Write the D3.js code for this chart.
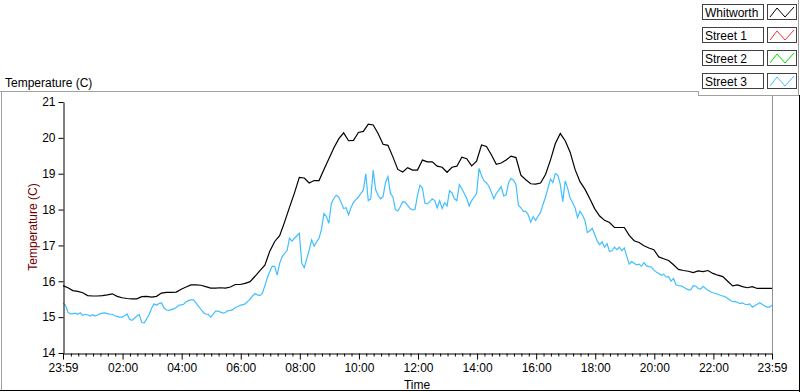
<!DOCTYPE html>
<html>
<head>
<meta charset="utf-8">
<script src="https://cdn.jsdelivr.net/npm/d3@7"></script>
<style>
  body { margin: 0; background: #fff; }
  svg { display: block; font-family: "Liberation Sans", Arial, sans-serif; font-size: 12px; }
</style>
</head>
<body>
<svg id="chart" width="800" height="392"></svg>
<script>
// legend entries (only Whitworth and Street 3 have data on the plot)
var seriesNames = ["Whitworth", "Street 1", "Street 2", "Street 3"];
var seriesColors = ["#000000", "#ff3030", "#00e000", "#40bfff"];

// x tick labels, first and last are the start/end of the 24h window
var tickLabels = ["23:59", "02:00", "04:00", "06:00", "08:00", "10:00", "12:00",
                  "14:00", "16:00", "18:00", "20:00", "22:00", "23:59"];

// Whitworth, one reading every 10 min from 23:59
var whitworthTemp = [
  15.88,15.82,15.74,15.72,15.68,15.60,
  15.59,15.59,15.60,15.62,15.65,15.58,
  15.54,15.52,15.51,15.51,15.57,15.58,
  15.56,15.58,15.67,15.69,15.69,15.70,
  15.78,15.84,15.90,15.90,15.89,15.85,
  15.81,15.81,15.82,15.81,15.84,15.91,
  15.91,15.94,15.99,16.14,16.30,16.45,
  16.84,17.11,17.27,17.65,18.06,18.46,
  18.90,18.88,18.74,18.81,18.81,19.12,
  19.42,19.72,19.97,20.14,19.92,19.93,
  20.15,20.18,20.38,20.36,20.12,19.82,
  19.79,19.47,19.12,19.05,19.17,19.10,
  19.10,19.38,19.33,19.33,19.21,19.18,
  19.04,19.18,19.21,19.46,19.42,19.22,
  19.35,19.80,19.76,19.53,19.26,19.30,
  19.38,19.49,19.45,18.96,18.83,18.72,
  18.71,18.74,18.98,19.38,19.84,20.12,
  19.92,19.60,19.12,18.78,18.57,18.30,
  18.02,17.82,17.70,17.64,17.50,17.50,
  17.50,17.28,17.13,17.08,16.99,16.93,
  16.88,16.68,16.63,16.58,16.46,16.33,
  16.30,16.28,16.24,16.29,16.27,16.30,
  16.22,16.17,16.13,16.00,15.87,15.90,
  15.85,15.82,15.85,15.80,15.80,15.80,
  15.80
];

// Street 3, one reading every 5 min from 23:59
var street3Temp = [
  15.39,15.33,15.14,15.09,15.10,15.11,15.08,15.12,15.05,15.08,15.06,15.03,
  15.07,15.03,15.06,15.09,15.11,15.12,15.10,15.08,15.08,15.04,15.02,15.00,
  15.00,15.04,15.09,14.94,14.91,14.97,15.03,15.07,14.85,14.84,14.95,15.08,
  15.25,15.37,15.33,15.38,15.40,15.26,15.20,15.19,15.21,15.23,15.27,15.33,
  15.34,15.36,15.43,15.46,15.48,15.48,15.40,15.31,15.22,15.13,15.08,15.08,
  15.00,15.08,15.17,15.17,15.14,15.11,15.13,15.18,15.19,15.21,15.27,15.29,
  15.33,15.35,15.37,15.44,15.50,15.59,15.66,15.62,15.60,15.67,15.88,16.10,
  16.27,16.42,16.41,16.17,16.50,16.68,16.78,16.85,17.20,17.12,17.20,17.27,
  17.34,16.50,16.38,16.62,16.87,17.15,16.98,17.10,17.20,17.45,17.89,17.80,
  17.62,18.17,18.31,18.40,18.35,18.20,18.03,18.05,17.85,18.06,18.20,18.28,
  18.35,18.45,18.54,19.00,18.25,18.30,19.10,18.55,18.40,18.30,18.36,18.75,
  18.92,18.45,18.36,18.00,17.96,18.08,18.22,18.20,18.12,18.03,17.99,18.00,
  18.40,18.68,18.60,18.18,18.16,18.22,18.30,18.25,18.05,18.25,18.03,18.19,
  18.10,18.52,18.47,18.30,18.25,18.70,18.58,18.45,18.31,18.10,18.25,18.35,
  18.45,19.15,18.95,18.80,18.75,18.65,18.48,18.30,18.45,18.54,18.64,18.38,
  18.41,18.75,18.87,18.82,18.70,18.12,18.05,17.95,17.95,17.85,17.65,17.80,
  17.70,17.82,17.92,18.15,18.35,18.60,18.85,18.75,19.00,18.96,18.70,18.22,
  18.80,18.59,18.32,18.19,18.05,17.78,17.95,17.85,17.70,17.36,17.41,17.48,
  17.30,17.12,17.02,17.10,16.95,17.05,16.83,16.85,16.95,16.88,16.95,16.85,
  16.93,16.70,16.48,16.55,16.50,16.46,16.48,16.42,16.52,16.43,16.41,16.40,
  16.31,16.26,16.22,16.17,16.20,16.12,16.13,16.00,16.08,15.90,15.88,15.87,
  15.84,15.80,15.76,15.76,15.88,15.87,15.80,15.78,15.86,15.80,15.75,15.71,
  15.68,15.66,15.64,15.61,15.59,15.57,15.52,15.47,15.43,15.44,15.41,15.38,
  15.40,15.36,15.35,15.37,15.28,15.32,15.36,15.40,15.36,15.31,15.28,15.28,
  15.33
];

var svg = d3.select("#chart");

// minutes elapsed since 23:59
function tickOffset(label, i) {
  if (i === 0) return 0;
  var p = label.split(":");
  return +p[0] * 60 + +p[1] + 1;
}
var majorTicks = tickLabels.map(tickOffset);
var minorTicks = d3.range(16, 1440, 15).filter(function(m) { return (m - 1) % 120 !== 0; });

var x = d3.scaleLinear().domain([0, 1440]).range([63, 772]);
var y = d3.scaleLinear().domain([14, 21]).range([353, 102]);

// outer panel frame
svg.append("line").attr("x1", 0).attr("x2", 698).attr("y1", 91.5).attr("y2", 91.5)
  .style("stroke", "#a0a0a0");
svg.append("line").attr("x1", 1.5).attr("x2", 1.5).attr("y1", 91).attr("y2", 390)
  .style("stroke", "#a0a0a0");
svg.append("line").attr("x1", 0).attr("x2", 800).attr("y1", 390.5).attr("y2", 390.5)
  .style("stroke", "#000");
svg.append("line").attr("x1", 799.5).attr("x2", 799.5).attr("y1", 95).attr("y2", 392)
  .style("stroke", "#000");

svg.append("text").attr("x", 5).attr("y", 87).text("Temperature (C)");

// plot right edge
svg.append("line").attr("x1", 772.5).attr("x2", 772.5).attr("y1", 96).attr("y2", 353)
  .style("stroke", "#909090");

// lines
var lineW = d3.line()
  .x(function(d, i) { return x(i * 10); })
  .y(function(d) { return y(d); });
var lineS = d3.line()
  .x(function(d, i) { return x(i * 5); })
  .y(function(d) { return y(d); });

svg.append("path").datum(street3Temp)
  .attr("d", lineS)
  .style("fill", "none").style("stroke", seriesColors[3]).style("stroke-width", "1.2px");
svg.append("path").datum(whitworthTemp)
  .attr("d", lineW)
  .style("fill", "none").style("stroke", seriesColors[0]).style("stroke-width", "1.2px");

// axes
var yAxis = svg.append("g").attr("transform", "translate(63.5,0)")
  .call(d3.axisLeft(y).ticks(7).tickFormat(d3.format("d")).tickSize(5).tickSizeOuter(0).tickPadding(3));
var xAxis = svg.append("g").attr("transform", "translate(0,353.5)")
  .call(d3.axisBottom(x).tickValues(majorTicks)
    .tickFormat(function(d, i) { return tickLabels[i]; })
    .tickSize(6).tickSizeOuter(0).tickPadding(4));
svg.append("g").attr("transform", "translate(0,353.5)")
  .call(d3.axisBottom(x).tickValues(minorTicks).tickFormat("").tickSize(3).tickSizeOuter(0))
  .select(".domain").remove();

svg.selectAll(".tick text").style("font-family", "Liberation Sans, Arial, sans-serif")
  .style("font-size", "12px").style("fill", "#000");
svg.selectAll(".domain, .tick line").style("stroke", "#000");

// axis titles
svg.append("text").attr("x", 417).attr("y", 389).attr("text-anchor", "middle").text("Time");
svg.append("text").attr("transform", "translate(37,227) rotate(-90)")
  .attr("text-anchor", "middle").style("fill", "#700000").text("Temperature (C)");

// legend
var legend = svg.append("g");
legend.append("line").attr("x1", 698).attr("x2", 798).attr("y1", 95.5).attr("y2", 95.5)
  .style("stroke", "#a0a0a0");
legend.append("line").attr("x1", 798.5).attr("x2", 798.5).attr("y1", 0).attr("y2", 96)
  .style("stroke", "#a0a0a0");
legend.append("line").attr("x1", 698.5).attr("x2", 698.5).attr("y1", 91).attr("y2", 96)
  .style("stroke", "#a0a0a0");

var entry = legend.selectAll("g.entry").data(seriesNames).enter().append("g")
  .attr("class", "entry")
  .attr("transform", function(d, i) { return "translate(0," + (4 + i * 23) + ")"; });

entry.append("rect").attr("x", 702.5).attr("y", 0.5).attr("width", 61).attr("height", 15)
  .style("fill", "#fff").style("stroke", "#404040");
entry.append("text").attr("x", 705).attr("y", 12.5).text(function(d) { return d; });
entry.append("rect").attr("x", 767.5).attr("y", 0.5).attr("width", 29).attr("height", 15)
  .style("fill", "#fff").style("stroke", "#404040");
entry.append("path")
  .attr("d", "M770,13L777,4L785,13L794,3")
  .style("fill", "none")
  .style("stroke", function(d, i) { return seriesColors[i]; });
</script>
</body>
</html>
